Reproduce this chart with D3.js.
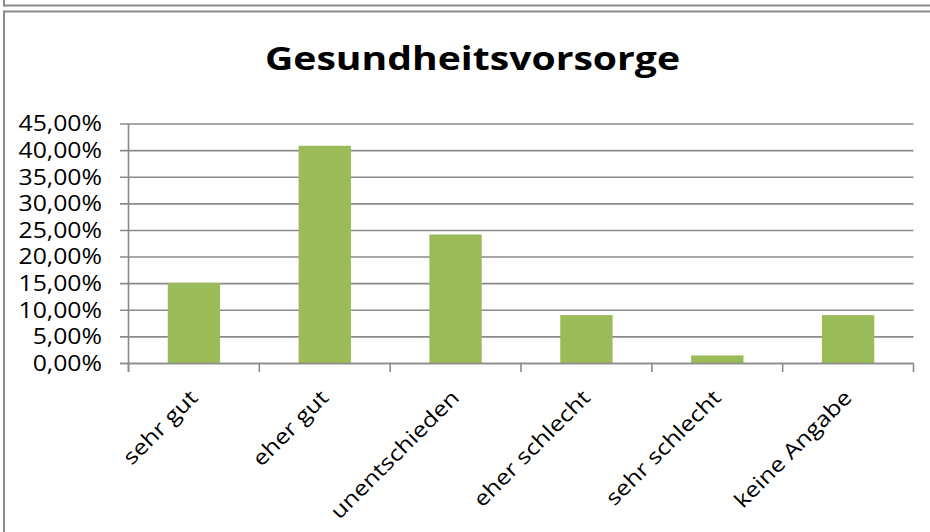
<!DOCTYPE html>
<html>
<head>
<meta charset="utf-8">
<script src="https://cdn.jsdelivr.net/npm/d3@7"></script>
<style>
  html, body { margin: 0; padding: 0; background: #fff; }
  svg { display: block; }
  text { font-family: "Open Sans", "Noto Sans", sans-serif; fill: #000; }
</style>
</head>
<body>
<svg id="chart" width="930" height="532"></svg>
<script>
const title = "Gesundheitsvorsorge";
const categories = ["sehr gut", "eher gut", "unentschieden", "eher schlecht", "sehr schlecht", "keine Angabe"];
const values = [0.1515, 0.4091, 0.2424, 0.0909, 0.0152, 0.0909];
const yTicks = [0, 0.05, 0.10, 0.15, 0.20, 0.25, 0.30, 0.35, 0.40, 0.45];

const svg = d3.select("#chart");
const gridColor = "#8a8a8a";

// outer frames (screenshot edges)
svg.append("line").attr("x1", 4).attr("x2", 930).attr("y1", 5.5).attr("y2", 5.5)
  .attr("stroke", "#8c8c8c").attr("stroke-width", 2);
svg.append("line").attr("x1", 4).attr("x2", 4).attr("y1", 0).attr("y2", 6.5)
  .attr("stroke", "#8c8c8c").attr("stroke-width", 2);
svg.append("line").attr("x1", 4).attr("x2", 930).attr("y1", 11.5).attr("y2", 11.5)
  .attr("stroke", "#8c8c8c").attr("stroke-width", 2);
svg.append("line").attr("x1", 4).attr("x2", 4).attr("y1", 10.5).attr("y2", 532)
  .attr("stroke", "#8c8c8c").attr("stroke-width", 2);

const locale = d3.formatLocale({decimal: ",", thousands: ".", grouping: [3], currency: ["", " €"]});
const fmt = locale.format(".2%");

const x = d3.scaleBand().domain(categories).range([128.5, 913.5]).paddingInner(0.6).paddingOuter(0.3);
const y = d3.scaleLinear().domain([0, 0.45]).range([363.5, 124]);

// title
svg.append("text").attr("x", 472.5).attr("y", 69.5)
  .attr("text-anchor", "middle").attr("font-weight", "bold").attr("font-size", 32)
  .attr("textLength", 415).attr("lengthAdjust", "spacingAndGlyphs")
  .text(title);

// gridlines + y tick marks
svg.append("g").selectAll("line").data(yTicks).join("line")
  .attr("x1", 120).attr("x2", 913.5)
  .attr("y1", d => y(d)).attr("y2", d => y(d))
  .attr("stroke", gridColor).attr("stroke-width", 1.6);

const fs = 21;
const sx = 1.18;

// y labels
svg.append("g").selectAll("text").data(yTicks).join("text")
  .attr("text-anchor", "end").attr("font-size", fs)
  .attr("transform", d => `translate(102,${y(d) + 7.3}) scale(${sx},1)`)
  .text(d => fmt(d));

// bars
svg.append("g").selectAll("rect").data(values).join("rect")
  .attr("x", (d, i) => x(categories[i]))
  .attr("width", x.bandwidth())
  .attr("y", d => y(d))
  .attr("height", d => y(0) - y(d))
  .attr("fill", "#9bbb59");

// y axis line
svg.append("line").attr("x1", 128.5).attr("x2", 128.5).attr("y1", 124).attr("y2", 372)
  .attr("stroke", gridColor).attr("stroke-width", 1.6);
// x axis line
svg.append("line").attr("x1", 120).attr("x2", 913.5).attr("y1", y(0)).attr("y2", y(0))
  .attr("stroke", gridColor).attr("stroke-width", 1.6);

// x ticks at band boundaries
const step = x.step();
const bounds = categories.map(c => x(c) - step * 0.3).concat([x(categories[categories.length - 1]) + x.bandwidth() + step * 0.3]);
svg.append("g").selectAll("line").data(bounds).join("line")
  .attr("x1", d => d).attr("x2", d => d).attr("y1", y(0)).attr("y2", 372)
  .attr("stroke", gridColor).attr("stroke-width", 1.6);

// x labels rotated
svg.append("g").selectAll("text").data(categories).join("text")
  .attr("text-anchor", "end").attr("font-size", fs)
  .attr("transform", d => `translate(${x(d) + x.bandwidth() / 2 + 5},399) rotate(-45) scale(${sx},1)`)
  .text(d => d);
</script>
</body>
</html>
